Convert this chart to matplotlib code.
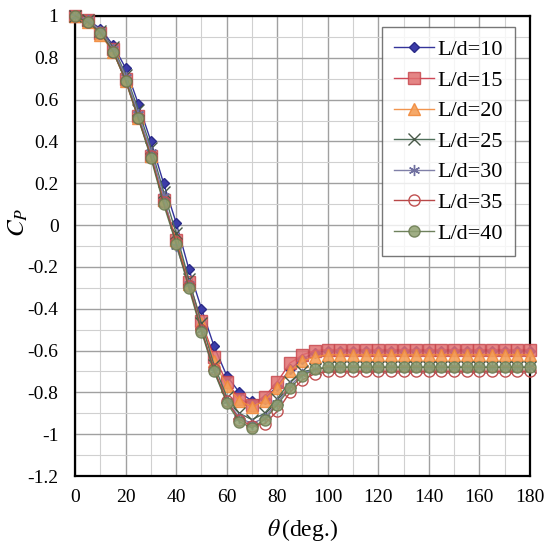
import matplotlib
matplotlib.use("Agg")
import matplotlib.pyplot as plt
from matplotlib.ticker import MultipleLocator, FuncFormatter

theta = list(range(0, 181, 5))

cp_10 = [1.0, 0.98, 0.94, 0.86, 0.75, 0.58, 0.40, 0.20, 0.01, -0.21, -0.40, -0.58, -0.72, -0.80, -0.84, -0.83,
         -0.77, -0.69, -0.64, -0.61] + [-0.60] * 17
cp_15 = [1.0, 0.98, 0.92, 0.84, 0.70, 0.52, 0.33, 0.12, -0.07, -0.27, -0.46, -0.63, -0.75, -0.83, -0.86, -0.82,
         -0.75, -0.66, -0.62, -0.60] + [-0.595] * 17
cp_20 = [1.0, 0.97, 0.91, 0.83, 0.69, 0.51, 0.33, 0.12, -0.07, -0.28, -0.47, -0.65, -0.77, -0.84, -0.87, -0.84,
         -0.78, -0.70, -0.65, -0.63] + [-0.62] * 17
cp_25 = [1.0, 0.98, 0.93, 0.85, 0.72, 0.55, 0.37, 0.16, -0.04, -0.26, -0.47, -0.67, -0.82, -0.90, -0.93, -0.90,
         -0.83, -0.75, -0.70, -0.69] + [-0.68] * 17
cp_30 = [1.0, 0.98, 0.93, 0.84, 0.71, 0.53, 0.35, 0.14, -0.10, -0.28, -0.50, -0.70, -0.84, -0.92, -0.95, -0.92,
         -0.85, -0.77, -0.71, -0.69] + [-0.68] * 17
cp_35 = [1.0, 0.97, 0.92, 0.83, 0.69, 0.51, 0.33, 0.11, -0.08, -0.29, -0.50, -0.69, -0.84, -0.93, -0.96, -0.95,
         -0.89, -0.80, -0.74, -0.71] + [-0.70] * 17
cp_40 = [1.0, 0.97, 0.92, 0.83, 0.69, 0.51, 0.32, 0.10, -0.09, -0.30, -0.51, -0.70, -0.85, -0.94, -0.97, -0.93,
         -0.86, -0.78, -0.72, -0.69] + [-0.68] * 17

labels = ["L/d=10", "L/d=15", "L/d=20", "L/d=25", "L/d=30", "L/d=35", "L/d=40"]
series = [cp_10, cp_15, cp_20, cp_25, cp_30, cp_35, cp_40]

styles = [
    dict(color="#34349a", marker="D", ms=5.5, mfc="#3c3ca8", mec="#2a2a88"),
    dict(color="#c8283a", marker="s", ms=8, mfc="#e07070", mec="#c84a50", alpha=0.85),
    dict(color="#f08a3c", marker="^", ms=8, mfc="#f4a05a", mec="#f08a3c", alpha=0.9),
    dict(color="#50705a", marker="x", ms=8, mfc="none", mec="#485848"),
    dict(color="#8080a8", marker=(6, 2, 0), ms=8, mfc="none", mec="#7070a0"),
    dict(color="#b84848", marker="o", ms=8, mfc="none", mec="#c05050"),
    dict(color="#556b40", marker="o", ms=8, mfc="#8fa070", mec="#6a7a50", alpha=0.85),
]

plt.rcParams["font.family"] = ["Liberation Serif", "DejaVu Serif"]
plt.rcParams["mathtext.fontset"] = "stix"

fig = plt.figure(figsize=(5.49, 5.51), dpi=100)
ax = fig.add_axes([0.137, 0.136, 0.828, 0.835])

for y, lab, st in zip(series, labels, styles):
    ax.plot(theta, y, label=lab, lw=1.0, clip_on=False, zorder=3, **st)

ax.set_xlim(0, 180)
ax.set_ylim(-1.2, 1.0)
ax.xaxis.set_major_locator(MultipleLocator(20))
ax.xaxis.set_minor_locator(MultipleLocator(10))
ax.yaxis.set_major_locator(MultipleLocator(0.2))
ax.yaxis.set_minor_locator(MultipleLocator(0.1))
ax.yaxis.set_major_formatter(FuncFormatter(lambda v, p: ("%g" % round(v, 2)).replace("\u2212", "-")))
ax.grid(which="major", color="#a0a0a0", lw=1.0)
ax.grid(which="minor", color="#d0d0d0", lw=0.8)
ax.set_axisbelow(True)
ax.tick_params(which="both", length=0, labelsize=14)
ax.tick_params(axis="y", pad=12)
ax.tick_params(axis="x", pad=9)
for s in ax.spines.values():
    s.set_linewidth(1.6)
    s.set_color("black")

ax.set_xlabel(r"$\theta\,$(deg.)", fontsize=17, labelpad=8)
ax.set_ylabel(r"$C_P$", fontsize=18)
ax.yaxis.set_label_coords(-0.099, 0.552)

leg = ax.legend(loc="upper right", bbox_to_anchor=(0.968, 0.975), fontsize=16, frameon=True, fancybox=False,
                edgecolor="#555555", handlelength=1.8, handletextpad=0.15, labelspacing=0.45, borderpad=0.55,
                borderaxespad=0)
leg.get_frame().set_linewidth(1.0)

fig.savefig("out.png", dpi=100)
